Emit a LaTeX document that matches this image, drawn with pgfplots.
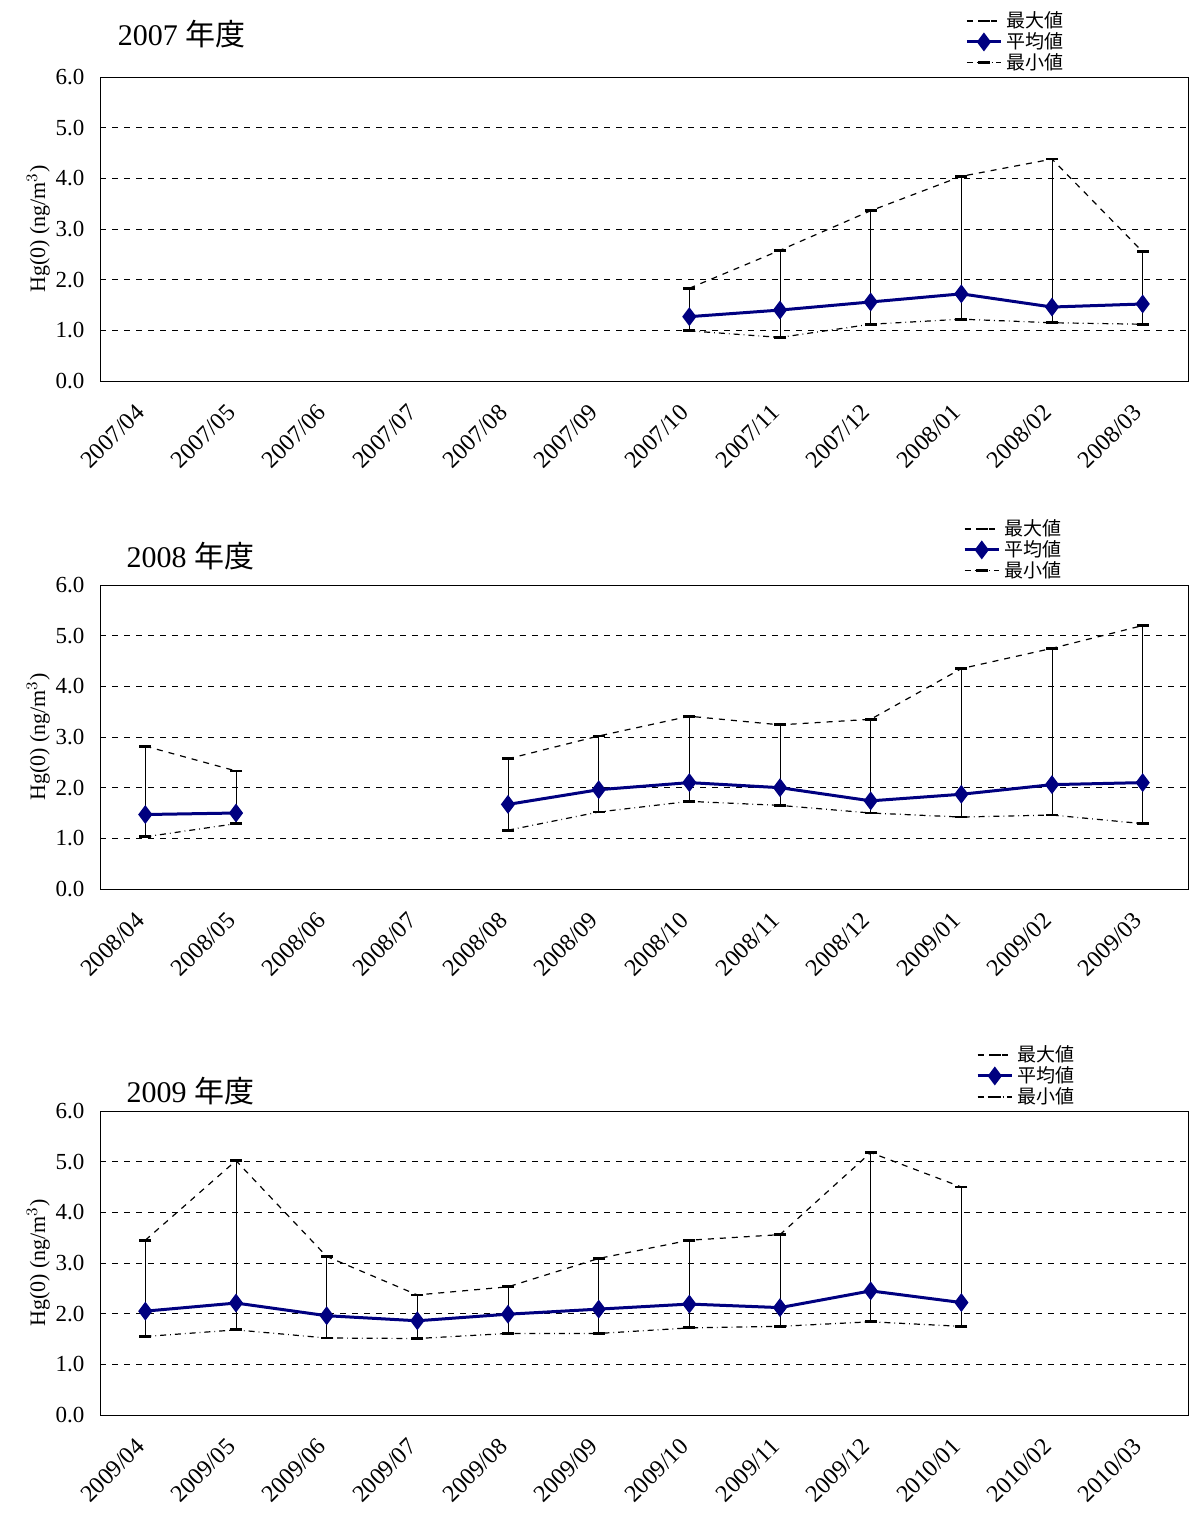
\documentclass[border=0pt]{standalone}
\usepackage{pgfplots}
\usepackage{pgfplotstable}
\pgfplotsset{compat=1.18}
\usepackage{fontspec}
\setmainfont{Liberation Serif}
\newfontfamily\jp{Noto Sans CJK JP}
\definecolor{navy}{RGB}{0,0,128}
\pgfplotstableread{
x mean max min
6 1.27 1.83 0.99
7 1.40 2.58 0.86
8 1.56 3.36 1.12
9 1.72 4.04 1.22
10 1.46 4.38 1.15
11 1.52 2.55 1.12
}\tA
\pgfplotstableread{
x mean max min
0 1.47 2.82 1.03
1 1.50 2.33 1.29
2 nan nan nan
3 nan nan nan
4 1.67 2.57 1.16
5 1.96 3.02 1.52
6 2.10 3.41 1.73
7 2.00 3.24 1.65
8 1.74 3.35 1.50
9 1.87 4.35 1.42
10 2.06 4.75 1.46
11 2.10 5.20 1.29
}\tB
\pgfplotstableread{
x mean max min
0 2.05 3.45 1.55
1 2.21 5.02 1.68
2 1.96 3.13 1.52
3 1.86 2.37 1.51
4 1.99 2.53 1.61
5 2.09 3.09 1.61
6 2.19 3.45 1.72
7 2.12 3.56 1.75
8 2.45 5.18 1.84
9 2.22 4.50 1.75
}\tC
\pgfplotsset{myax/.style={
  scale only axis, width=544pt, height=152pt, anchor=south west, clip=false,
  xmin=-0.5, xmax=11.5, ymin=0, ymax=6,
  ytick={0,1,...,6}, yticklabel style={font=\fontsize{11.5}{13}\selectfont, /pgf/number format/.cd,fixed,fixed zerofill,precision=1},
  /pgf/number format/assume math mode=true,
  ymajorgrids, grid style={black, dashed, line width=0.4pt},
  xtick={0,...,11}, major x tick style={draw=none},
  extra x ticks={0.5,1.5,...,10.5}, extra x tick labels={}, extra x tick style={major tick length=4pt, tick style={black}, grid=none},
  ytick align=outside, major y tick style={draw=none},
  xticklabel style={rotate=45, anchor=east, xshift=-8pt, yshift=-8pt, font=\fontsize{12}{13}\selectfont},
  ylabel={Hg(0) (ng/m$^3$)}, ylabel style={font=\fontsize{11}{13}\selectfont, yshift=-4pt},
  unbounded coords=jump,
  legend style={draw=none, fill=none, anchor=north west, font=\jp\fontsize{9.5}{11}\selectfont, row sep=-3pt, inner sep=0pt},
  legend cell align=left,
}}
\newcommand\series[1]{%
  \addplot[black, thin, forget plot, no marks, draw=none, error bars/.cd, y dir=both, y explicit, error bar style={black, line width=0.4pt}, error mark=none]
    table[x=x, y=mean, y error plus expr=\thisrow{max}-\thisrow{mean}, y error minus expr=\thisrow{mean}-\thisrow{min}]{#1};
  \addplot[black, dashed, line width=0.6pt, mark=-, mark size=3pt, mark options={solid, line width=1.4pt}] table[x=x,y=max]{#1};
  \addplot[navy, line width=1.5pt, mark=diamond*, mark size=3.5pt, mark options={fill=navy}] table[x=x,y=mean]{#1};
  \addplot[black, dash dot, line width=0.6pt, mark=-, mark size=3pt, mark options={solid, line width=1.4pt}] table[x=x,y=min]{#1};
  \legend{最大値,平均値,最小値}}
\begin{document}
\begin{tikzpicture}
\useasboundingbox (0,0) rectangle (594pt,-762pt);
\begin{axis}[myax, at={(50pt,-190.5pt)}, legend style={at={(rel axis cs:0.795,1.23)}},
  xticklabels={2007/04,2007/05,2007/06,2007/07,2007/08,2007/09,2007/10,2007/11,2007/12,2008/01,2008/02,2008/03}]
\series{\tA}
\node[anchor=west, font=\fontsize{15}{17}\selectfont] at (rel axis cs:0.01,1.14) {2007 {\jp 年度}};
\end{axis}
\begin{axis}[myax, at={(50pt,-444.5pt)}, legend style={at={(rel axis cs:0.793,1.23)}},
  xticklabels={2008/04,2008/05,2008/06,2008/07,2008/08,2008/09,2008/10,2008/11,2008/12,2009/01,2009/02,2009/03}]
\series{\tB}
\node[anchor=west, font=\fontsize{15}{17}\selectfont] at (rel axis cs:0.018,1.095) {2008 {\jp 年度}};
\end{axis}
\begin{axis}[myax, at={(50pt,-707.5pt)}, legend style={at={(rel axis cs:0.805,1.23)}},
  xticklabels={2009/04,2009/05,2009/06,2009/07,2009/08,2009/09,2009/10,2009/11,2009/12,2010/01,2010/02,2010/03}]
\series{\tC}
\node[anchor=west, font=\fontsize{15}{17}\selectfont] at (rel axis cs:0.018,1.066) {2009 {\jp 年度}};
\end{axis}
\end{tikzpicture}
\end{document}
